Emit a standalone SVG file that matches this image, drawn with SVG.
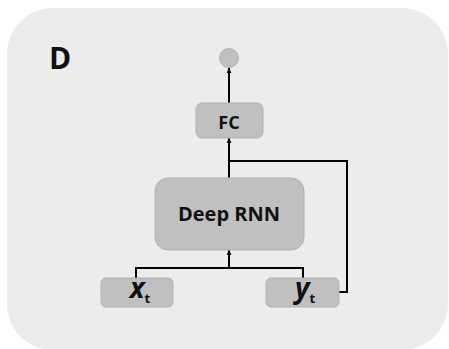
<svg xmlns="http://www.w3.org/2000/svg" width="449" height="349" viewBox="0 0 449 349">
<defs>
<style>
.box{fill:#c0c0c0;stroke:#b3b3b3;stroke-width:1}
.lbl{font-family:"Open Sans","Liberation Sans",sans-serif;font-weight:bold;fill:#111;text-anchor:middle}
.ln{fill:none;stroke:#000;stroke-width:2}
</style>
<marker id="ah" viewBox="0 0 10 10" refX="10" refY="5" markerWidth="5" markerHeight="5" orient="auto" markerUnits="userSpaceOnUse">
<path d="M0,0 L10,5 L0,10 z" fill="#000"/>
</marker>
</defs>
<rect x="7" y="8" width="441" height="342" rx="46" fill="#ececec"/>
<text x="49" y="69" style="font-family:'Open Sans','Liberation Sans',sans-serif;font-weight:bold;font-size:30px" fill="#111">D</text>
<g id="connectors">
<line class="ln" x1="229" y1="103" x2="229" y2="68" marker-end="url(#ah)"/>
<line class="ln" x1="229" y1="178" x2="229" y2="138" marker-end="url(#ah)"/>
<polyline class="ln" points="229,161 347,161 347,292 339,292"/>
<line class="ln" x1="229" y1="268" x2="229" y2="250" marker-end="url(#ah)"/>
<polyline class="ln" points="136,278 136,268 303,268 303,278"/>
</g>
<g id="out"><circle cx="229" cy="58" r="9.5" class="box"/></g>
<g id="fc"><rect class="box" x="196" y="103" width="67" height="35" rx="6"/><text class="lbl" x="229" y="129" style="font-size:18px">FC</text></g>
<g id="rnn"><rect class="box" x="155" y="178" width="149" height="72" rx="13"/><text class="lbl" x="229" y="221" style="font-size:20px">Deep RNN</text></g>
<g id="xt"><rect class="box" x="101" y="278" width="72" height="29" rx="5"/><text class="lbl" x="140" y="298" style="font-size:28px"><tspan font-style="italic">x</tspan><tspan style="font-size:13px" dy="5">t</tspan></text></g>
<g id="yt"><rect class="box" x="266" y="278" width="73" height="29" rx="5"/><text class="lbl" x="305" y="298" style="font-size:28px"><tspan font-style="italic">y</tspan><tspan style="font-size:13px" dy="5">t</tspan></text></g>
</svg>
